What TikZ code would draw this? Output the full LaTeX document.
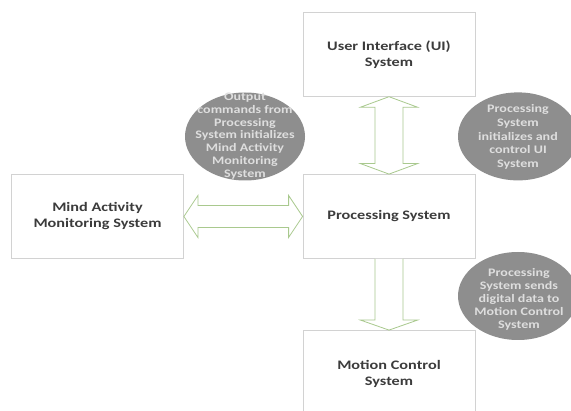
\documentclass[tikz,border=0pt]{standalone}
\usepackage{fontspec}
\setmainfont{Carlito}
\newfontfamily\boxfont{Carlito}[FakeStretch=1.25]
\newfontfamily\ellfont{Carlito}[FakeStretch=1.22]
\usetikzlibrary{shapes.geometric,calc}
\definecolor{boxline}{HTML}{D2D2D2}
\definecolor{boxtext}{HTML}{3C3C3C}
\definecolor{ellfill}{HTML}{8E8E8E}
\definecolor{elltext}{HTML}{DEDEDE}
\definecolor{arrowgreen}{HTML}{A9C98E}
\tikzset{
  sysbox/.style={draw=boxline, line width=0.8pt, fill=white, inner sep=0pt,
    minimum width=172pt, minimum height=84pt, align=center, text=boxtext,
    font=\boxfont\bfseries\fontsize{13}{16}\selectfont},
  bubble/.style={ellipse, fill=ellfill, draw=none, inner sep=0pt,
    minimum width=120pt, minimum height=88pt},
  bubbletext/.style={align=center, inner sep=0pt, text=elltext,
    font=\ellfont\bfseries\fontsize{11.5}{13}\selectfont},
  fatarrow/.style={draw=arrowgreen, line width=0.8pt, fill=white, line join=miter}
}
\begin{document}
\begin{tikzpicture}[x=1pt,y=-1pt]
\useasboundingbox (0,0) rectangle (571,411);
\fill[white] (0,0) rectangle (571,411);
\clip (0,0) rectangle (571,411);

\node[sysbox] (ui) at (389,54.3) {User Interface (UI)\\System};
\node[sysbox] (proc) at (389,216.5) {Processing System};
\node[sysbox] (mind) at (97.5,216.5) {Mind Activity\\Monitoring System};
\node[sysbox, minimum height=92pt, text depth=0pt] (motion) at (389,376.5) {};
\node[align=center, inner sep=0pt, text=boxtext, font=\boxfont\bfseries\fontsize{13}{16}\selectfont] (motiontext) at (389,374) {Motion Control\\System};

% UI <-> Processing
\draw[fatarrow] (ui.south) -- ($(ui.south)+(28.5,10.5)$) -- ($(ui.south)+(14,10.5)$)
  -- ($(proc.north)+(14,-10.5)$) -- ($(proc.north)+(28.5,-10.5)$) -- (proc.north)
  -- ($(proc.north)+(-28.5,-10.5)$) -- ($(proc.north)+(-14,-10.5)$)
  -- ($(ui.south)+(-14,10.5)$) -- ($(ui.south)+(-28.5,10.5)$) -- cycle;

% Mind <-> Processing
\draw[fatarrow] (mind.east) -- ($(mind.east)+(14,-21)$) -- ($(mind.east)+(14,-11)$)
  -- ($(proc.west)+(-14,-11)$) -- ($(proc.west)+(-14,-21)$) -- (proc.west)
  -- ($(proc.west)+(-14,21)$) -- ($(proc.west)+(-14,11)$)
  -- ($(mind.east)+(14,11)$) -- ($(mind.east)+(14,21)$) -- cycle;

% Processing -> Motion
\draw[fatarrow] ($(proc.south)+(-14,0)$) -- ($(motion.north)+(-14,-10)$)
  -- ($(motion.north)+(-28.5,-10)$) -- (motion.north)
  -- ($(motion.north)+(28.5,-10)$) -- ($(motion.north)+(14,-10)$)
  -- ($(proc.south)+(14,0)$);

% bubbles
\node[bubble] (b1) at (245,136.5) {};
\node[bubbletext, font=\ellfont\bfseries\fontsize{11.5}{12.8}\selectfont] (b1t) at (245,136) {Output\\commands from\\Processing\\System initializes\\Mind Activity\\Monitoring\\System};
\node[bubble] (b2) at (518,136.4) {};
\node[bubbletext, font=\ellfont\bfseries\fontsize{11.5}{13.8}\selectfont] (b2t) at (518,137) {Processing\\System\\initializes and\\control UI\\System};
\node[bubble] (b3) at (518,296) {};
\node[bubbletext] (b3t) at (519,299) {Processing\\System sends\\digital data to\\Motion Control\\System};
\end{tikzpicture}
\end{document}
